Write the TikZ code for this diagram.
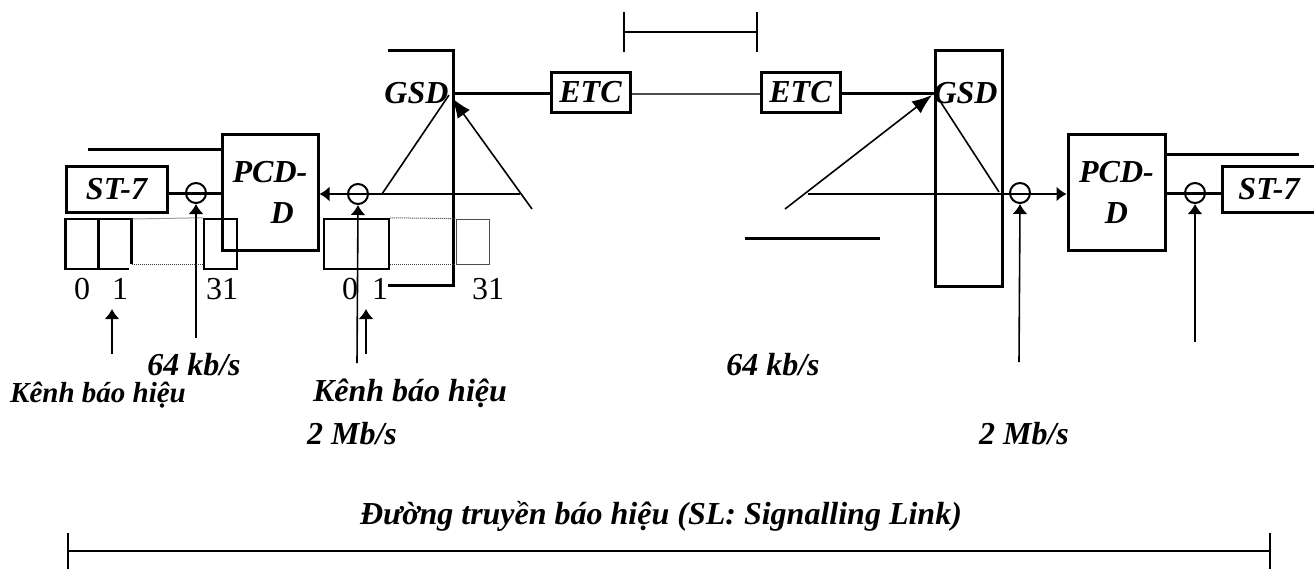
\documentclass[tikz,border=0pt]{standalone}
\usepackage{fontspec}
\setmainfont{Liberation Serif}
\usetikzlibrary{arrows.meta}

\begin{document}
\begin{tikzpicture}[x=1pt,y=-1pt]
    \tikzset{block/.style={shape=rectangle,draw,line width=3pt,inner sep=0pt,font=\fontsize{32}{38}\selectfont\bfseries\itshape}}
    \tikzset{slot/.style={shape=rectangle,draw,line width=2.5pt,inner sep=0pt,minimum width=33pt,minimum height=50pt}}
    \tikzset{mixer/.style={shape=circle,draw,line width=2pt,inner sep=0pt,minimum size=20pt}}
    \tikzset{title/.style={font=\fontsize{32}{38}\selectfont\bfseries\itshape,inner sep=0pt}}
    \tikzset{digit/.style={font=\fontsize{32}{38}\selectfont,inner sep=0pt}}
    \tikzset{wire/.style={line width=3pt}}
    \tikzset{thin wire/.style={line width=1.6pt}}
    \tikzset{dots/.style={line width=1pt,densely dotted,black!75}}
    \tikzset{edge/.style={-{Latex[length=10pt,width=15pt]},line width=1.6pt}}
    \tikzset{slant/.style={-{Latex[length=20pt,width=15pt]},line width=1.6pt}}
    \useasboundingbox (0,0) rectangle (1314,570);

    % left end
    \node[block,minimum width=101pt,minimum height=46pt] (st7a) at (116.5,189) {ST-7};
    \node[block,minimum width=96pt,minimum height=116pt,align=left] (pcda) at (270,192) {PCD-\hspace{12pt}\\[3pt]\hspace{38pt}D};
    \node[mixer] (mixa) at (196,193) {};
    \node[slot] (s0a) at (82,244) {};
    \node[slot,draw=none,outer sep=0pt] (s1a) at (115,244) {};
    \node[slot] (s31a) at (220.5,244) {};
    \node[digit] (d0a) at (82,289) {0};
    \node[digit] (d1a) at (120,289) {1};
    \node[digit] (d31a) at (222,289) {31};
    \coordinate (topa) at (88,149);
    \coordinate (feeda) at (196,338);
    \coordinate (taila) at (112,354);
    \coordinate (heada) at (112,309);
    \draw[wire] (st7a.east |- mixa) -- (pcda.west |- mixa);
    \draw[wire] (topa) -- (pcda.west |- topa);
    \draw[edge] (feeda) -- (mixa.south);
    \draw[edge] (taila) -- (heada);
    \draw[line width=2.5pt] (s1a.north west) -- (s1a.north east) -- ++(0,45);
    \draw[line width=2.5pt] (s1a.south west) -- ++(30,0);
    \draw[dots] (s1a.north east) -- (s31a.north west);
    \draw[dots] (s1a.south east |- 0,264) -- (s31a.south west |- 0,264);

    % left exchange
    \node[title] (gsda) at (416.5,93) {GSD};
    \coordinate (gsdatop) at (388,50);
    \coordinate (gsdabot) at (388,285);
    \coordinate (gsdaright) at (453,168);
    \coordinate (hubb) at (453,93);
    \coordinate (tipb) at (452,98);
    \coordinate (knifea) at (382,194);
    \coordinate (knifeb) at (449,95);
    \coordinate (stuba) at (532,209);
    \coordinate (stubb) at (520,194);
    \node[mixer] (mixb) at (358,194) {};
    \node[slot,minimum width=65pt] (s0b) at (356.5,244) {};
    \node[shape=rectangle,draw,line width=0.8pt,black!70,inner sep=0pt,minimum width=33pt,minimum height=45pt] (s31b) at (472.5,241.5) {};
    \node[digit] (d0b) at (350,289) {0};
    \node[digit] (d1b) at (380,289) {1};
    \node[digit] (d31b) at (488,289) {31};
    \coordinate (feedb) at (357,363);
    \coordinate (tailb) at (366,354);
    \coordinate (headb) at (366,309);
    \draw[wire] (gsdatop) -| (gsdaright) |- (gsdabot);
    \draw[line width=1.6pt] (knifea) -- (knifeb);
    \draw[slant] (stuba) -- (tipb);
    \draw[edge] (stubb) -- (pcda.east |- stubb);
    \draw[edge] (feedb) -- (mixb.south);
    \draw[edge] (tailb) -- (headb);
    \draw[dots] (s0b.north east) -- (s31b.north west);
    \draw[dots] (s0b.east |- s31b.south west) -- (s31b.south west);

    % trunk
    \node[block,minimum width=79pt,minimum height=40pt] (etca) at (590.5,92) {ETC};
    \node[block,minimum width=79pt,minimum height=40pt] (etcb) at (800.5,92) {ETC};
    \draw[wire] (hubb) -- (etca.west |- hubb);
    \draw[thin wire,black!70] (etca.east |- 0,94) -- (etcb.west |- 0,94);
    \coordinate (spana) at (623,32);
    \coordinate (spanb) at (758,32);
    \draw[thin wire,{Bar[width=40pt]}-{Bar[width=40pt]}] (spana) -- (spanb);

    % right exchange
    \node[block,minimum width=67pt,minimum height=236pt] (gsdb) at (968.5,168) {};
    \node[title] (gsdc) at (965.5,93) {GSD};
    \coordinate (bara) at (745,238);
    \coordinate (barb) at (880,238);
    \coordinate (stubc) at (785,209);
    \coordinate (knifec) at (932,95);
    \coordinate (knifed) at (938,98);
    \coordinate (knifee) at (999,192);
    \coordinate (stubd) at (808,194);
    \draw[wire] (etcb.east |- hubb) -- (gsdb.west |- hubb);
    \draw[wire] (bara) -- (barb);
    \draw[slant] (stubc) -- (knifec);
    \draw[line width=1.6pt] (knifed) -- (knifee);

    % right end
    \node[mixer] (mixc) at (1020,193) {};
    \node[mixer] (mixd) at (1195,193) {};
    \node[block,minimum width=97pt,minimum height=116pt,align=center] (pcdb) at (1116.5,192) {PCD-\hspace{7pt}\\[3pt]D\hspace{7pt}};
    \node[block,minimum width=94pt,minimum height=46pt] (st7b) at (1269,189) {ST-7};
    \coordinate (topb) at (1299,154);
    \coordinate (feedc) at (1019,362);
    \coordinate (feedd) at (1195,342);
    \draw[edge] (stubd) -- (pcdb.west |- stubd);
    \draw[wire] (pcdb.east |- mixd) -- (st7b.west |- mixd);
    \draw[wire] (pcdb.east |- topb) -- (topb);
    \draw[edge] (feedc) -- (mixc.south);
    \draw[edge] (feedd) -- (mixd.south);

    % captions
    \node[title] (ratea) at (194,365) {64 kb/s};
    \node[title] (rateb) at (773,365) {64 kb/s};
    \node[title,font=\fontsize{29}{35}\selectfont\bfseries\itshape] (chana) at (98,395) {Kênh báo hiệu};
    \node[title] (chanb) at (410,393) {Kênh báo hiệu};
    \node[title] (linea) at (352,434) {2 Mb/s};
    \node[title] (lineb) at (1024,434) {2 Mb/s};
    \node[title] (sltext) at (661,516) {Đường truyền báo hiệu (SL: Signalling Link)};
    \coordinate (sla) at (67,551);
    \coordinate (slb) at (1271,551);
    \draw[thin wire,line width=2pt,{Bar[width=36pt]}-{Bar[width=36pt]}] (sla) -- (slb);
\end{tikzpicture}
\end{document}
